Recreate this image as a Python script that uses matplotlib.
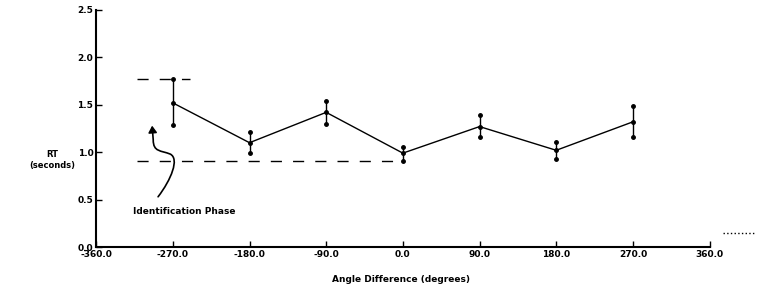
import matplotlib.pyplot as plt
from matplotlib.path import Path
from matplotlib.patches import FancyArrowPatch
from matplotlib.lines import Line2D

angles = [-270, -180, -90, 0, 90, 180, 270]
rt_mean = [1.52, 1.10, 1.42, 0.99, 1.27, 1.02, 1.32]
rt_upper = [1.77, 1.21, 1.54, 1.06, 1.39, 1.11, 1.49]
rt_lower = [1.29, 0.99, 1.30, 0.91, 1.16, 0.93, 1.16]

x_ticks = [-360, -270, -180, -90, 0, 90, 180, 270, 360]
y_ticks = [0.0, 0.5, 1.0, 1.5, 2.0, 2.5]

# identification phase markers
phase_top = 1.77
phase_bottom = 0.91

plt.rcParams['font.family'] = 'DejaVu Sans'
plt.rcParams['font.weight'] = 'bold'

fig = plt.figure(figsize=(7.63, 2.91), dpi=100)
ax = fig.add_axes([0.126, 0.151, 0.804, 0.815])

err_lo = [m - l for m, l in zip(rt_mean, rt_lower)]
err_hi = [u - m for m, u in zip(rt_mean, rt_upper)]
ax.errorbar(angles, rt_mean, yerr=[err_lo, err_hi], color='black', lw=1,
            elinewidth=1, marker='o', ms=2.5, capsize=0)
# dots at bar ends
ax.plot(angles, rt_upper, 'o', color='black', ms=2.5)
ax.plot(angles, rt_lower, 'o', color='black', ms=2.5)

ax.plot([-312, -250], [phase_top, phase_top], color='black', lw=1, dashes=(8, 8))
ax.plot([-312, 0], [phase_bottom, phase_bottom], color='black', lw=1, dashes=(8, 8))

# curly arrow
verts = [(-287.3, 0.53), (-272, 0.71), (-262, 0.93), (-273, 0.98),
         (-284, 1.02), (-293, 1.00), (-293, 1.13), (-294.3, 1.28)]
codes = [Path.MOVETO, Path.CURVE4, Path.CURVE4, Path.CURVE4,
         Path.CURVE4, Path.CURVE4, Path.CURVE4, Path.LINETO]
arrow = FancyArrowPatch(path=Path(verts, codes), arrowstyle='-|>,head_length=4,head_width=2.5',
                        color='black', lw=1.2)
ax.add_patch(arrow)
ax.text(-257, 0.38, 'Identification Phase', ha='center', va='center', fontsize=6.5)

ax.set_xlim(-360, 360)
ax.set_ylim(0, 2.5)
ax.set_xticks(x_ticks)
ax.set_xticklabels([f'{t:.1f}' for t in x_ticks])
ax.set_yticks(y_ticks)
ax.set_yticklabels([f'{t:.1f}' for t in y_ticks])
ax.tick_params(direction='in', length=4, width=1, labelsize=6.5, pad=2)
for s in ['top', 'right']:
    ax.spines[s].set_visible(False)
for s in ['left', 'bottom']:
    ax.spines[s].set_linewidth(1.5)

fig.text(0.068, 0.45, 'RT\n(seconds)', ha='center', va='center', fontsize=6)
fig.text(0.525, 0.04, 'Angle Difference (degrees)', ha='center', va='center', fontsize=6.5)
fig.add_artist(Line2D([0.948, 0.99], [0.20, 0.20], color='black', lw=1, ls=':'))

fig.savefig('out.png', dpi=100)
